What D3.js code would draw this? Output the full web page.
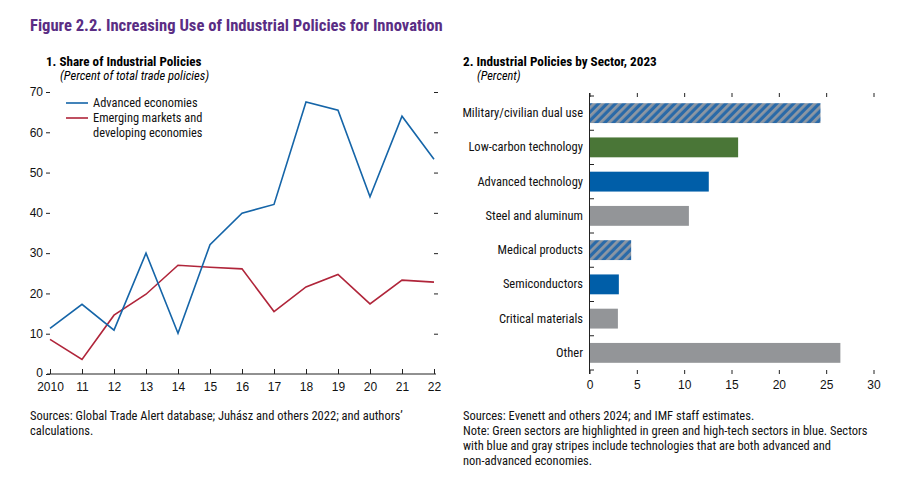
<!DOCTYPE html>
<html><head><meta charset="utf-8">
<script src="https://cdn.jsdelivr.net/npm/d3@7"></script>
<style>
body{margin:0;background:#fff;}
svg{display:block;font-family:"Liberation Sans Narrow","Arial Narrow","Roboto Condensed","Liberation Sans",sans-serif;}
</style></head>
<body>
<svg id="c" width="905" height="483"></svg>
<script>
// ---- Data ----
const years = ["2010","11","12","13","14","15","16","17","18","19","20","21","22"];
const advanced = [11.3,17.3,10.9,30.0,10.1,32.1,39.9,42.1,67.5,65.5,44.0,64.0,53.3];
const emerging = [8.6,3.6,14.6,19.8,27.0,26.5,26.1,15.5,21.6,24.7,17.4,23.3,22.8];
const yTicks = [0,10,20,30,40,50,60,70];
const sectors = ["Military/civilian dual use","Low-carbon technology","Advanced technology","Steel and aluminum","Medical products","Semiconductors","Critical materials","Other"];
const sectorValues = [24.4,15.7,12.6,10.5,4.4,3.1,3.0,26.5];
const sectorType = ["stripe","green","blue","gray","stripe","blue","gray","gray"];
const xTicks2 = [0,5,10,15,20,25,30];

const svg = d3.select("#c");
const defs = svg.append("defs");
const pat = defs.append("pattern").attr("id","stripe").attr("patternUnits","userSpaceOnUse")
  .attr("width",6).attr("height",6).attr("patternTransform","rotate(45)");
pat.append("rect").attr("width",6).attr("height",6).attr("fill","#2a6aa8");
pat.append("rect").attr("width",2.8).attr("height",6).attr("fill","#8d97a3");
const fills = {stripe:"url(#stripe)",green:"#4a7637",blue:"#005ea8",gray:"#939598"};

// Title
svg.append("text").attr("x",30).attr("y",31).attr("fill","#5a2d84")
  .attr("font-size",16.6).attr("font-weight","bold").text("Figure 2.2. Increasing Use of Industrial Policies for Innovation");

// ---- Panel 1 ----
svg.append("text").attr("x",46).attr("y",66).attr("font-size",13.1).attr("font-weight","bold").text("1. Share of Industrial Policies");
svg.append("text").attr("x",60).attr("y",80).attr("font-size",12.5).attr("font-style","italic").text("(Percent of total trade policies)");

const x1 = d3.scalePoint().domain(years).range([50,434]);
const y1 = d3.scaleLinear().domain([0,70]).range([374,92]);

const gy = svg.append("g").attr("transform","translate(50,0)")
  .call(d3.axisLeft(y1).tickValues(yTicks).tickSize(4).tickPadding(3));
gy.select(".domain").remove();
gy.selectAll("text").attr("font-size",12).attr("font-family",null).attr("fill","#111");
gy.selectAll("line").attr("stroke","#222");
gy.selectAll(".tick").filter(d=>d===0).select("text").attr("dy","0.2em");

const gyr = svg.append("g").attr("transform","translate(434,0)")
  .call(d3.axisRight(y1).tickValues(yTicks.slice(1)).tickSize(4).tickFormat(""));
gyr.select(".domain").remove();
gyr.selectAll("line").attr("stroke","#222");

const gx = svg.append("g").attr("transform","translate(0,374)")
  .call(d3.axisBottom(x1).tickSize(-5).tickPadding(8).tickSizeOuter(0));
gx.select(".domain").attr("stroke","#222").attr("d","M47,0H436");
gx.selectAll("text").attr("font-size",12).attr("font-family",null).attr("fill","#111");
gx.selectAll("line").attr("stroke","#222");

const line1 = d3.line().x((d,i)=>x1(years[i])).y(d=>y1(d));
svg.append("path").datum(emerging).attr("d",line1).attr("fill","none").attr("stroke","#b0253a").attr("stroke-width",1.6);
svg.append("path").datum(advanced).attr("d",line1).attr("fill","none").attr("stroke","#1565a8").attr("stroke-width",1.6);

// Legend
svg.append("line").attr("x1",66).attr("x2",88).attr("y1",103).attr("y2",103).attr("stroke","#1565a8").attr("stroke-width",1.6);
svg.append("line").attr("x1",66).attr("x2",88).attr("y1",118).attr("y2",118).attr("stroke","#b0253a").attr("stroke-width",1.6);
const lg = [["Advanced economies",107],["Emerging markets and",122],["developing economies",137]];
lg.forEach(d=>svg.append("text").attr("x",93).attr("y",d[1]).attr("font-size",12.4).attr("fill","#111").text(d[0]));

// ---- Panel 2 ----
svg.append("text").attr("x",463).attr("y",66).attr("font-size",13.2).attr("font-weight","bold").text("2. Industrial Policies by Sector, 2023");
svg.append("text").attr("x",477).attr("y",80).attr("font-size",12.3).attr("font-style","italic").text("(Percent)");

const x2 = d3.scaleLinear().domain([0,30]).range([589.5,873.5]);
const y2 = d3.scaleBand().domain(sectors).range([96,370]).paddingInner(0.42).paddingOuter(0.21);

svg.append("g").selectAll("rect").data(sectors).join("rect")
  .attr("x",x2(0)).attr("y",d=>y2(d)).attr("height",y2.bandwidth())
  .attr("width",(d,i)=>x2(sectorValues[i])-x2(0))
  .attr("fill",(d,i)=>fills[sectorType[i]]);

// top ticks
const gt = svg.append("g").attr("transform","translate(0,93)")
  .call(d3.axisTop(x2).tickValues(xTicks2).tickSize(-4).tickFormat(""));
gt.select(".domain").remove();
gt.selectAll("line").attr("stroke","#222");
// bottom ticks
const gb = svg.append("g").attr("transform","translate(0,370)")
  .call(d3.axisBottom(x2).tickValues(xTicks2).tickSize(4).tickPadding(6));
gb.select(".domain").remove();
gb.selectAll("line").attr("stroke","#222");
gb.selectAll("text").attr("font-size",12).attr("font-family",null).attr("fill","#111");
// left axis
const bounds = d3.range(sectors.length+1).map(i=>96+i*(274/sectors.length));
svg.append("line").attr("x1",589.5).attr("x2",589.5).attr("y1",93).attr("y2",374).attr("stroke","#222");
svg.append("g").selectAll("line").data(bounds).join("line")
  .attr("x1",589.5).attr("x2",594).attr("y1",d=>d).attr("y2",d=>d).attr("stroke","#222");
svg.append("g").selectAll("text").data(sectors).join("text")
  .attr("x",583).attr("y",d=>y2(d)+y2.bandwidth()/2+4).attr("text-anchor","end")
  .attr("font-size",12.5).attr("fill","#111").text(d=>d);

// ---- Notes ----
const notesL = ["Sources: Global Trade Alert database; Juhász and others 2022; and authors’","calculations."];
notesL.forEach((t,i)=>svg.append("text").attr("x",30).attr("y",420+i*15).attr("font-size",12.5).attr("fill","#111").text(t));
const notesR = ["Sources: Evenett and others 2024; and IMF staff estimates.","Note: Green sectors are highlighted in green and high-tech sectors in blue. Sectors","with blue and gray stripes include technologies that are both advanced and","non-advanced economies."];
notesR.forEach((t,i)=>svg.append("text").attr("x",463).attr("y",420+i*15).attr("font-size",12.5).attr("fill","#111").text(t));
</script>
</body></html>
